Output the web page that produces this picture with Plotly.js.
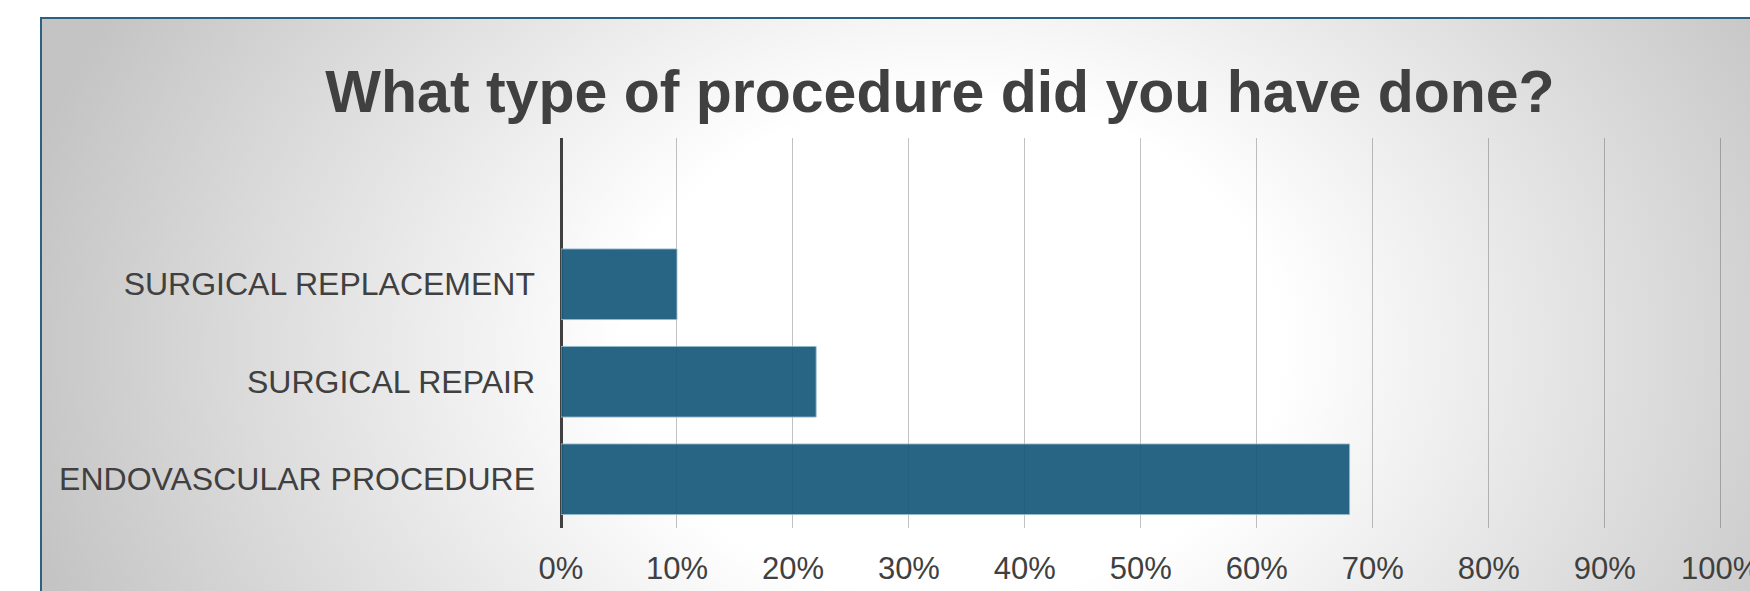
<!DOCTYPE html>
<html>
<head>
<meta charset="utf-8">
<script src="https://cdn.plot.ly/plotly-3.0.1.min.js"></script>
<style>
  html, body { margin: 0; padding: 0; width: 1750px; height: 591px; overflow: hidden; background: #ffffff; }
  #frame {
    position: absolute; left: 40px; top: 17px; width: 1760px; height: 640px;
    border-left: 2px solid #2b6283; border-top: 2px solid #2b6283;
    background: radial-gradient(ellipse 1000px 760px at 910px 330px, #ffffff 0%, #ffffff 33%, #c4c4c4 95%);
  }
  #chart { position: absolute; left: 0; top: 0; width: 1750px; height: 591px; }
</style>
</head>
<body>
<div id="frame"></div>
<div id="chart"></div>
<script>
const chartTitle = "What type of procedure did you have done?";
const categories = ["ENDOVASCULAR PROCEDURE", "SURGICAL REPAIR", "SURGICAL REPLACEMENT"];
const percentValues = [68, 22, 10];
const tickValues = [0, 10, 20, 30, 40, 50, 60, 70, 80, 90, 100];
const tickLabels = ["0%", "10%", "20%", "30%", "40%", "50%", "60%", "70%", "80%", "90%", "100%"];

const trace = {
  type: "bar",
  orientation: "h",
  x: percentValues,
  y: categories,
  marker: {
    color: "rgba(22,87,122,0.92)",
    line: { color: "rgba(150,185,205,0.9)", width: 1 }
  },
  hoverinfo: "none"
};

const layout = {
  width: 1750,
  height: 591,
  margin: { l: 561, r: 27, t: 138, b: 63, pad: 0 },
  paper_bgcolor: "rgba(0,0,0,0)",
  plot_bgcolor: "rgba(0,0,0,0)",
  showlegend: false,
  bargap: 0.276,
  title: {
    text: "<b>" + chartTitle + "</b>",
    font: { family: "Liberation Sans, Arial, sans-serif", size: 59, color: "#404040" },
    xref: "container", yref: "container",
    x: 940 / 1750, xanchor: "center",
    y: 1 - 91 / 591, yanchor: "middle"
  },
  xaxis: {
    range: [0, 100.2],
    tickvals: tickValues,
    ticktext: tickLabels,
    showgrid: true,
    gridcolor: "rgba(0,0,0,0.24)",
    gridwidth: 1,
    zeroline: true,
    zerolinecolor: "#404040",
    zerolinewidth: 3,
    showline: false,
    ticks: "",
    ticklabelstandoff: 19,
    ticklabeloverflow: "allow",
    tickfont: { family: "Liberation Sans, Arial, sans-serif", size: 31, color: "#404040" },
    fixedrange: true
  },
  yaxis: {
    type: "category",
    categoryorder: "array",
    categoryarray: categories,
    range: [-0.5, 3.5],
    showgrid: false,
    zeroline: false,
    showline: false,
    ticks: "",
    ticklabelstandoff: 25,
    tickfont: { family: "Liberation Sans, Arial, sans-serif", size: 32, color: "#404040" },
    fixedrange: true
  }
};

Plotly.newPlot("chart", [trace], layout, { displayModeBar: false, staticPlot: true });
</script>
</body>
</html>
